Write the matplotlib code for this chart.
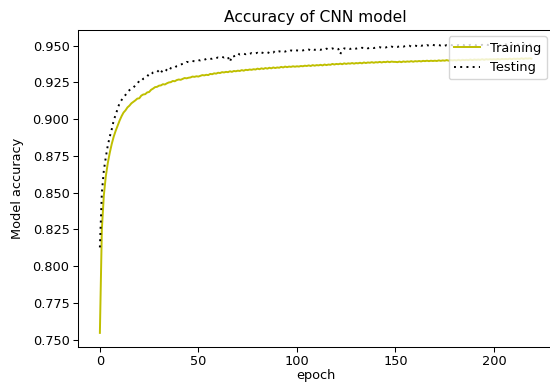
import matplotlib
matplotlib.use("Agg")
import matplotlib.pyplot as plt

training = [
    0.7545, 0.8250, 0.8480, 0.8610, 0.8700, 0.8770, 0.8830, 0.8880, 0.8920, 0.8955,
    0.8990, 0.9020, 0.9045, 0.9060, 0.9080, 0.9092, 0.9108, 0.9118, 0.9128, 0.9140,
    0.9142, 0.9160, 0.9168, 0.9170, 0.9182, 0.9185, 0.9200, 0.9208, 0.9218, 0.9220,
    0.9228, 0.9230, 0.9238, 0.9236, 0.9244, 0.9250, 0.9252, 0.9260, 0.9258, 0.9266,
    0.9270, 0.9268, 0.9274, 0.9280, 0.9278, 0.9282, 0.9284, 0.9290, 0.9288, 0.9292,
    0.9290, 0.9295, 0.9300, 0.9298, 0.9302, 0.9300, 0.9308, 0.9306, 0.9312, 0.9310,
    0.9316, 0.9314, 0.9320, 0.9318, 0.9322, 0.9320, 0.9326, 0.9322, 0.9328, 0.9326,
    0.9330, 0.9328, 0.9334, 0.9330, 0.9336, 0.9334, 0.9338, 0.9336, 0.9340, 0.9338,
    0.9344, 0.9340, 0.9346, 0.9342, 0.9348, 0.9344, 0.9350, 0.9346, 0.9352, 0.9348,
    0.9352, 0.9350, 0.9356, 0.9352, 0.9358, 0.9354, 0.9358, 0.9356, 0.9360, 0.9357,
    0.9360, 0.9358, 0.9362, 0.9360, 0.9364, 0.9362, 0.9366, 0.9362, 0.9368, 0.9364,
    0.9368, 0.9366, 0.9370, 0.9366, 0.9372, 0.9368, 0.9372, 0.9370, 0.9376, 0.9372,
    0.9376, 0.9374, 0.9378, 0.9374, 0.9380, 0.9376, 0.9380, 0.9378, 0.9382, 0.9378,
    0.9382, 0.9380, 0.9384, 0.9380, 0.9386, 0.9382, 0.9386, 0.9384, 0.9388, 0.9384,
    0.9388, 0.9386, 0.9390, 0.9386, 0.9390, 0.9388, 0.9392, 0.9388, 0.9392, 0.9390,
    0.9390, 0.9388, 0.9392, 0.9388, 0.9393, 0.9390, 0.9393, 0.9391, 0.9395, 0.9391,
    0.9395, 0.9393, 0.9396, 0.9393, 0.9397, 0.9395, 0.9398, 0.9395, 0.9398, 0.9396,
    0.9398, 0.9396, 0.9400, 0.9397, 0.9400, 0.9398, 0.9402, 0.9398, 0.9402, 0.9400,
    0.9402, 0.9400, 0.9404, 0.9400, 0.9404, 0.9402, 0.9404, 0.9402, 0.9406, 0.9402,
    0.9406, 0.9404, 0.9406, 0.9404, 0.9408, 0.9404, 0.9408, 0.9406, 0.9408, 0.9406,
    0.9408, 0.9406, 0.9410, 0.9406, 0.9410, 0.9408, 0.9410, 0.9408, 0.9412, 0.9408,
    0.9412, 0.9410, 0.9412, 0.9410, 0.9414, 0.9410, 0.9414, 0.9412, 0.9414, 0.9412,
]

testing = [
    0.8127, 0.8500, 0.8650, 0.8740, 0.8820, 0.8880, 0.8930, 0.8990, 0.9030, 0.9070,
    0.9110, 0.9130, 0.9150, 0.9165, 0.9185, 0.9198, 0.9210, 0.9215, 0.9230, 0.9240,
    0.9262, 0.9260, 0.9275, 0.9280, 0.9290, 0.9310, 0.9305, 0.9318, 0.9322, 0.9320,
    0.9334, 0.9316, 0.9338, 0.9342, 0.9332, 0.9326, 0.9348, 0.9352, 0.9350, 0.9362,
    0.9368, 0.9372, 0.9376, 0.9380, 0.9390, 0.9388, 0.9392, 0.9396, 0.9394, 0.9400,
    0.9402, 0.9400, 0.9406, 0.9404, 0.9410, 0.9414, 0.9410, 0.9412, 0.9418, 0.9416,
    0.9420, 0.9418, 0.9424, 0.9420, 0.9426, 0.9422, 0.9390, 0.9430, 0.9428, 0.9434,
    0.9448, 0.9440, 0.9444, 0.9446, 0.9442, 0.9448, 0.9444, 0.9450, 0.9446, 0.9448,
    0.9452, 0.9446, 0.9454, 0.9450, 0.9452, 0.9456, 0.9450, 0.9458, 0.9454, 0.9466,
    0.9460, 0.9462, 0.9458, 0.9464, 0.9460, 0.9466, 0.9462, 0.9468, 0.9464, 0.9470,
    0.9468, 0.9466, 0.9470, 0.9468, 0.9472, 0.9470, 0.9474, 0.9468, 0.9476, 0.9472,
    0.9474, 0.9476, 0.9472, 0.9478, 0.9474, 0.9480, 0.9476, 0.9478, 0.9482, 0.9476,
    0.9480, 0.9478, 0.9443, 0.9470, 0.9482, 0.9480, 0.9484, 0.9478, 0.9482, 0.9486,
    0.9480, 0.9484, 0.9482, 0.9486, 0.9484, 0.9488, 0.9482, 0.9486, 0.9488, 0.9484,
    0.9488, 0.9486, 0.9490, 0.9486, 0.9490, 0.9488, 0.9492, 0.9488, 0.9494, 0.9490,
    0.9494, 0.9492, 0.9496, 0.9498, 0.9494, 0.9498, 0.9496, 0.9500, 0.9494, 0.9498,
    0.9500, 0.9498, 0.9505, 0.9500, 0.9502, 0.9498, 0.9504, 0.9500, 0.9502, 0.9506,
    0.9502, 0.9500, 0.9504, 0.9502, 0.9506, 0.9500, 0.9504, 0.9502, 0.9505, 0.9503,
    0.9506, 0.9502, 0.9504, 0.9500, 0.9506, 0.9504, 0.9508, 0.9502, 0.9506, 0.9504,
    0.9506, 0.9503, 0.9507, 0.9504, 0.9506, 0.9502, 0.9508, 0.9505, 0.9507, 0.9504,
    0.9508, 0.9504, 0.9506, 0.9503, 0.9508, 0.9505, 0.9509, 0.9504, 0.9507, 0.9505,
    0.9508, 0.9504, 0.9507, 0.9505, 0.9509, 0.9506, 0.9508, 0.9505, 0.9507, 0.9506,
]

epochs = list(range(len(training)))

W, H = 550, 383
fig = plt.figure(figsize=(W / 100, H / 100), dpi=100)
left, right, top, bottom = 78.3, 553.0, 30.0, 346.7
ax = fig.add_axes([left / W, (H - bottom) / H, (right - left) / W, (bottom - top) / H])

fs = 9.3
ax.plot(epochs, training, color='y', linestyle='-', linewidth=1.4, label='Training')
ax.plot(epochs, testing, color='k', linestyle=(0, (1, 2.2)), linewidth=1.4, label='Testing')

ax.set_xlim(-10.95, 229.95)
ax.set_ylim(0.7451, 0.9607)
ax.set_xticks([0, 50, 100, 150, 200])
ax.set_yticks([0.750, 0.775, 0.800, 0.825, 0.850, 0.875, 0.900, 0.925, 0.950])
ax.set_yticklabels(['0.750', '0.775', '0.800', '0.825', '0.850', '0.875', '0.900', '0.925', '0.950'])
ax.tick_params(labelsize=fs, length=3.3, width=0.75, pad=3.0)
for s in ax.spines.values():
    s.set_linewidth(0.75)

ax.set_title('Accuracy of CNN model', fontsize=11.2, pad=5.6)
ax.set_xlabel('epoch', fontsize=fs, labelpad=0.5)
ax.set_ylabel('Model accuracy', fontsize=fs, labelpad=6.5)
ax.legend(loc='upper right', fontsize=fs)

fig.savefig('out.png', dpi=100)
